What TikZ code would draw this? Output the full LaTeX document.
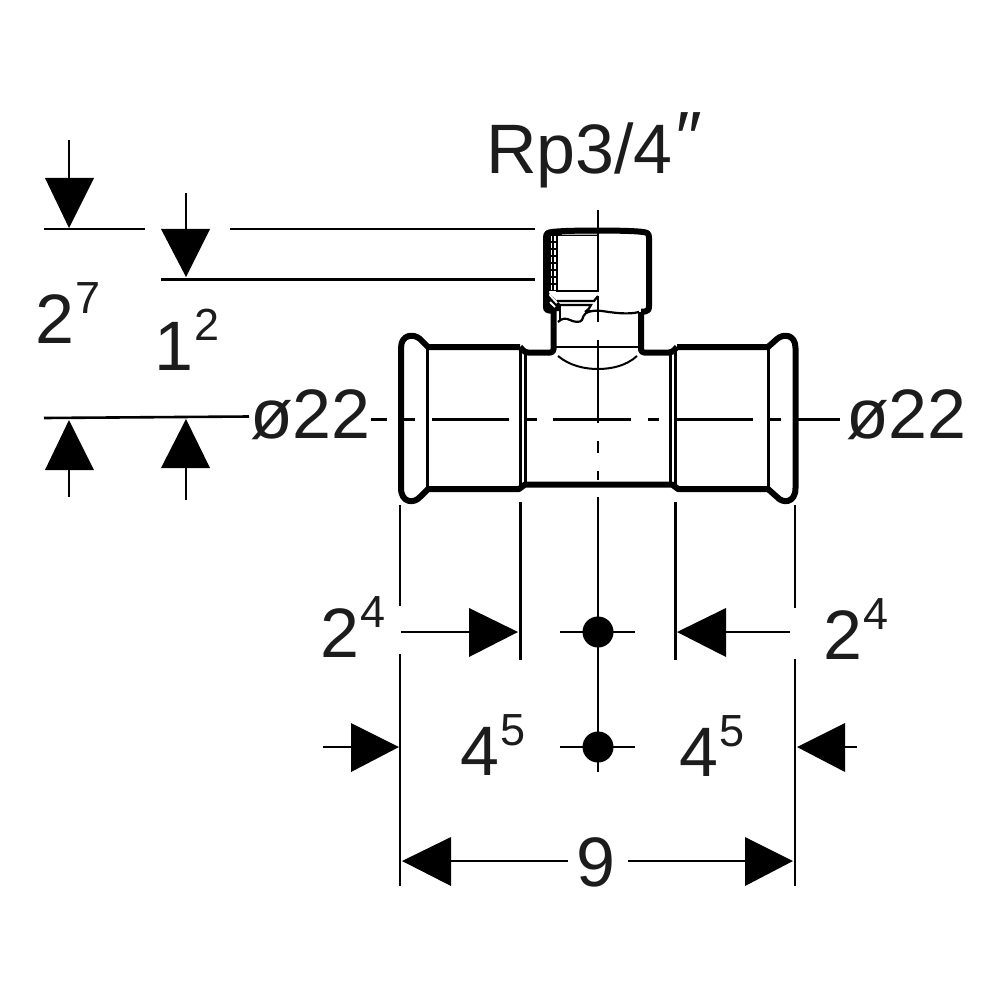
\documentclass[tikz,border=0pt]{standalone}
\usepackage{fontspec}
\setmainfont{Liberation Sans}
\definecolor{ink}{HTML}{1C1C1C}
\newcommand{\bigtxt}{\fontsize{70}{70}\selectfont}
\newcommand{\pw}[2]{{\bigtxt #1\kern2pt\raisebox{30pt}{\fontsize{45}{45}\selectfont #2}}}
\tikzset{
  dim/.style={line width=2.6pt,black,line cap=butt},
  thin part/.style={line width=2.2pt,black},
  outline/.style={line width=6pt,black,line join=round},
  cline/.style={line width=2.6pt,black},
  tip/.style={fill=black,draw=none},
  lab/.style={anchor=base west,inner sep=0pt,outer sep=0pt,text=ink,font=\bigtxt},
}
\begin{document}
\begin{tikzpicture}[x=1pt,y=-1pt]
\useasboundingbox (0,0) rectangle (1000,1000);
% --- collar interior
\fill[black] (546,233) rectangle (557,291);
\draw[white,line width=1.5pt,dash pattern=on 4.5pt off 2.5pt] (551.5,236) -- (551.5,292);
\draw[white,line width=1.4pt,dash pattern=on 5pt off 2pt] (555,236) -- (555,292);
\fill[black] (546,290) -- (560,304) -- (560,311) -- (546,311) -- cycle;
\draw[white,line width=2pt] (549,294) -- (557,303);
\draw[white,line width=1.8pt] (550,302) -- (555,307);
\draw[thin part] (557,235) -- (598,235) (557,235) -- (557,291) -- (598,291);
\draw[line width=2.6pt,gray!60] (562,233.5) -- (597,233.5);
\draw[thin part] (557,301) -- (594,301) .. controls (596,300) and (596,297) .. (598,296);
\draw[thin part] (557,305) -- (591,305) .. controls (590,308) and (588,310) .. (585,312);
% break line
\draw[thin part] (560,305) -- (560,321);
\draw[line width=2.2pt] (558,322) .. controls (562,318) and (566,318) .. (570,320)
  .. controls (574,322) and (580,323) .. (582,320) .. controls (584,317) and (583,314) .. (586,313)
  .. controls (590,311) and (596,310) .. (602,311) .. controls (612,312.5) and (628,315) .. (639,312);
\draw[line width=1.6pt] (586,311) -- (598,311);
% --- body outline
\draw[outline,rounded corners=3pt]
  (553.5,310) -- (553.5,352.5) -- (525,352.5) -- (520,347);
\draw[outline,rounded corners=3pt]
  (641,312) -- (641,352.5) -- (672,352.5) -- (677,347);
\draw[outline]
  (553.5,310.5) -- (549,310.5) .. controls (546,310.5) and (546,309) .. (546,306)
  -- (546,238) .. controls (546,233) and (548,232.5) .. (552,232)
  .. controls (565,230) and (630,230) .. (643,232)
  .. controls (647,232.5) and (649,233) .. (649,238)
  -- (649,306) .. controls (649,309.5) and (648,311.5) .. (645,311.5) -- (641,311.5);
\draw[outline]
  (520,347) -- (428,347) -- (420,339)
  .. controls (414,333.5) and (401,334) .. (401,348)
  -- (401,488) .. controls (401,503) and (414,504) .. (420,497)
  -- (428,489) -- (519,489) -- (525,484.5) -- (672,484.5) -- (678,489) -- (768,489) -- (777,497)
  .. controls (783,504) and (795.5,503) .. (795.5,488)
  -- (795.5,348) .. controls (795.5,334) and (783,333.5) .. (777,339)
  -- (768,347) -- (677,347);
% thin interior lines
\draw[thin part]
  (427.5,347) -- (427.5,489)
  (520.5,349) -- (520.5,487) (525.5,352) -- (525.5,485)
  (670.5,352) -- (670.5,485) (675.5,349) -- (675.5,487)
  (768.5,347) -- (768.5,489)
  (555,347) -- (639,347);
\draw[line width=2pt] (558,356) .. controls (570,366) and (585,369) .. (598,369)
  .. controls (611,369) and (626,366) .. (637,356);
% --- centre lines
\draw[cline]
  (598,210) -- (598,292) (598,296) -- (598,322)
  (598,340) -- (598,423) (598,441) -- (598,453) (598,471) -- (598,480)
  (598,497) -- (598,772);
\draw[cline]
  (371,419.5) -- (387,419.5) (402,419.5) -- (415,419.5) (432,419.5) -- (509,419.5)
  (526,419.5) -- (537,419.5) (553,419.5) -- (631,419.5) (648,419.5) -- (659,419.5)
  (676,419.5) -- (753,419.5) (770,419.5) -- (781,419.5) (798,419.5) -- (840,419.5);
% --- leader lines
\draw[dim] (44,229) -- (145,229) (230,229) -- (535,229) (161,279.5) -- (535,279.5);
\draw[dim] (44,418) -- (249,416.5);
\draw[dim]
  (400,505) -- (400,606) (400,654) -- (400,886)
  (520.5,502) -- (520.5,660)
  (675.5,502) -- (675.5,660)
  (795,505) -- (795,608) (795,659) -- (795,886);
\draw[dim] (560,632) -- (635,632) (560,747) -- (635,747);
% --- dots
\node[circle,fill=black,minimum size=31pt,inner sep=0pt] (dotA) at (598,632) {};
\node[circle,fill=black,minimum size=31pt,inner sep=0pt] (dotB) at (598,747) {};
% --- dimension arrows: vertical
\draw[dim] (69,140) -- (69,180) (186,193) -- (186,231);
\fill[tip] (45,178) -- (94,178) -- (69,228) -- cycle;
\fill[tip] (161,229) -- (210,229) -- (186,277) -- cycle;
\draw[dim] (69,468) -- (69,497) (186,466) -- (186,500);
\fill[tip] (45,470) -- (94,470) -- (69,420) -- cycle;
\fill[tip] (161,468) -- (210,468) -- (186,419) -- cycle;
% --- dimension arrows: horizontal
\draw[dim] (400.5,632) -- (472,632) (724,632) -- (790,632);
\fill[tip] (469,608) -- (469,657) -- (518,632) -- cycle;
\fill[tip] (726,608) -- (726,657) -- (677,632) -- cycle;
\draw[dim] (323,747) -- (353,747) (843,747) -- (857,747);
\fill[tip] (351,723) -- (351,772) -- (399,747) -- cycle;
\fill[tip] (845,723) -- (845,772) -- (797,747) -- cycle;
\draw[dim] (449,861) -- (568,861) (628,861) -- (747,861);
\fill[tip] (451,837) -- (451,886) -- (402,861) -- cycle;
\fill[tip] (745,837) -- (745,886) -- (793,861) -- cycle;
% --- labels
\node[lab] (rp) at (486,174) {Rp3/4};
\node[lab,font=\fontsize{74}{74}\selectfont\itshape] (inch) at (672,164) {″};
\node[lab] (d1) at (250,438) {ø22};
\node[lab] (d2) at (846,438) {ø22};
\node[lab] (h27) at (35,343) {\pw{2}{7}};
\node[lab] (h12) at (154,370) {\pw{1}{2}};
\node[lab] (w24a) at (320,657) {\pw{2}{4}};
\node[lab] (w24b) at (823,659) {\pw{2}{4}};
\node[lab] (w45a) at (460,775) {\pw{4}{5}};
\node[lab] (w45b) at (679,776) {\pw{4}{5}};
\node[lab] (w9) at (576,886) {9};
\end{tikzpicture}
\end{document}
